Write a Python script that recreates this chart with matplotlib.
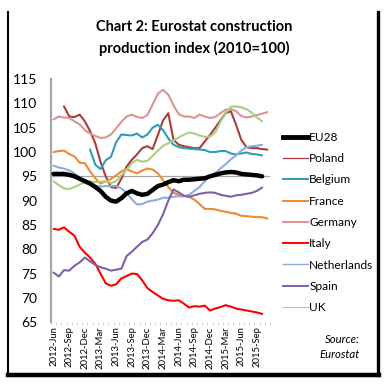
import matplotlib
matplotlib.use('Agg')
import matplotlib.pyplot as plt
from matplotlib.lines import Line2D
import numpy as np
import pandas as pd

# months on the category axis, 2012-Jun .. 2015-Nov
months = list(pd.date_range('2012-06-01', periods=42, freq='MS').strftime('%Y-%b'))

eu28 = [95.5, 95.5, 95.5, 95.3, 95.0, 94.5, 94.0, 93.5, 92.8, 92.0,
        90.8, 90.0, 89.8, 90.5, 91.5, 92.0, 91.5, 91.2, 91.4, 92.2,
        93.0, 93.3, 93.8, 94.2, 94.0, 94.3, 94.3, 94.4, 94.5, 94.6,
        95.0, 95.3, 95.6, 95.8, 95.9, 95.8, 95.5, 95.4, 95.3, 95.2,
        95.0, None]
poland = [None, None, 109.4, 107.3, 107.2, 107.7, 106.3, 104.3, 101.8, 98.0,
          95.0, 92.8, 92.6, 94.5, 97.0, 98.4, 99.5, 100.8, 101.2, 100.6,
          103.5, 106.5, 108.0, 102.5, 101.5, 101.2, 101.0, 100.8, 100.8, 102.2,
          103.5, 105.0, 106.5, 108.0, 108.4, 105.6, 102.5, 101.0, 100.8, 100.8,
          100.6, 100.5]
belgium = [None, None, None, None, None, None, None, 100.5, 97.4, 96.5,
           98.3, 99.0, 102.0, 103.6, 103.5, 103.4, 103.8, 103.0, 103.6, 105.0,
           105.6, 104.5, 102.8, 101.5, 101.0, 100.8, 100.7, 100.6, 100.5, 100.4,
           100.0, 100.0, 100.2, 100.2, 99.7, 99.5, 99.7, 99.9, 99.6, 99.5,
           99.3, None]
france = [100.0, 100.2, 100.3, 99.6, 99.1, 97.8, 97.7, 96.0, 94.6, 93.5,
          94.0, 94.5, 95.2, 96.0, 96.5, 96.0, 95.6, 96.2, 96.6, 96.4,
          95.6, 94.2, 92.8, 91.6, 91.2, 91.0, 90.8, 90.2, 89.3, 88.3,
          88.3, 88.2, 87.9, 87.7, 87.5, 87.3, 86.9, 86.8, 86.7, 86.6,
          86.6, 86.3]
germany = [106.7, 107.3, 107.1, 107.0, 106.3, 105.7, 104.5, 103.8, 103.3, 102.9,
           103.0, 103.6, 104.9, 106.2, 107.3, 107.7, 107.2, 107.0, 107.6, 109.8,
           112.0, 112.8, 111.8, 109.6, 107.8, 107.3, 107.3, 107.0, 107.7, 107.3,
           107.0, 107.2, 108.0, 108.7, 108.8, 108.4, 107.4, 107.1, 107.3, 107.6,
           107.9, 108.2]
italy = [84.2, 84.0, 84.5, 83.6, 82.8, 80.5, 79.3, 78.3, 77.0, 75.0,
         73.0, 72.5, 72.8, 74.0, 74.5, 75.0, 74.9, 73.6, 72.0, 71.2,
         70.5, 69.8, 69.5, 69.4, 69.5, 68.8, 68.0, 68.3, 68.2, 68.4,
         67.4, 67.8, 68.1, 68.5, 68.2, 67.8, 67.6, 67.4, 67.2, 67.0,
         66.7, None]
netherlands = [97.2, 96.8, 96.6, 96.2, 95.6, 94.7, 94.2, 93.6, 93.1, 92.9,
               93.0, 93.0, 93.0, 92.5, 91.5, 90.3, 89.2, 89.3, 89.8, 90.0,
               90.2, 90.6, 90.6, 90.8, 90.9, 90.9, 91.2, 92.0, 92.8, 94.0,
               95.0, 95.7, 96.6, 97.5, 98.5, 99.3, 100.3, 101.0, 101.2, 101.3,
               101.5, None]
spain = [75.2, 74.4, 75.7, 75.6, 76.6, 77.3, 78.3, 77.5, 76.8, 76.3,
         76.0, 75.6, 75.8, 76.0, 78.6, 79.5, 80.5, 81.5, 82.0, 83.3,
         85.0, 87.2, 90.0, 92.3, 91.7, 91.0, 90.8, 91.1, 91.4, 91.6,
         91.7, 91.6, 91.2, 91.0, 90.8, 91.1, 91.2, 91.4, 91.6, 92.0,
         92.7, None]
uk = [94.0, 93.2, 92.5, 92.4, 92.8, 93.3, 93.8, 94.0, 93.8, 93.9,
      94.0, 93.6, 94.0, 95.2, 96.3, 97.7, 98.4, 98.0, 98.2, 99.2,
      100.3, 101.3, 101.8, 102.4, 103.0, 103.6, 104.0, 103.8, 103.4, 103.1,
      103.2, 104.0, 106.2, 108.0, 109.3, 109.4, 109.2, 108.8, 108.1, 107.1,
      106.3, None]

names = ['EU28', 'Poland', 'Belgium', 'France', 'Germany', 'Italy',
         'Netherlands', 'Spain', 'UK']
series = [eu28, poland, belgium, france, germany, italy, netherlands, spain, uk]
colours = ['#000000', '#B03A3A', '#2E9DB6', '#EE8A33', '#D99594', '#FF0000',
           '#8FAADC', '#7D60A6', '#A9CF80']
widths = [3.2, 1.5, 1.5, 1.5, 1.5, 1.5, 1.5, 1.5, 1.5]
legend_widths = [3.5, 0.9, 1.4, 1.4, 1.4, 1.4, 1.0, 1.4, 0.8]

plt.rcParams['font.family'] = ['Lato', 'DejaVu Sans']

fig = plt.figure(figsize=(3.89, 3.84), dpi=100)
ax = fig.add_axes([0.131, 0.161, 0.563, 0.633])

x = np.arange(len(months))
# draw EU28 last so it sits on top
order = [1, 2, 3, 4, 5, 6, 7, 8, 0]
for n in order:
  y = np.array([np.nan if v is None else v for v in series[n]], dtype=float)
  ax.plot(x, y, color=colours[n], lw=widths[n], solid_capstyle='round',
          zorder=3 + (n == 0))

ax.axhline(95, color='#A6A6A6', lw=0.9, zorder=2)

ax.set_xlim(-0.5, len(months) - 0.5)
ax.set_ylim(65, 115)
ax.set_yticks(np.arange(65, 116, 5))
ax.set_xticks(x[::3])
ax.set_xticklabels(months[::3], rotation=90, fontsize=6.8)
ax.set_xticks(np.arange(-0.5, len(months), 1), minor=True)
ax.tick_params(axis='y', length=0, pad=10, labelsize=10)
ax.tick_params(axis='x', which='major', length=0, pad=3)
ax.tick_params(axis='x', which='minor', length=2, width=0.5, color='#BFBFBF')

for s in ['top', 'right', 'bottom']:
  ax.spines[s].set_visible(False)
ax.spines['left'].set_color('#A6A6A6')
ax.spines['left'].set_linewidth(1.6)

handles = [Line2D([], [], color=colours[n], lw=legend_widths[n]) for n in range(len(names))]
fig.legend(handles, names, loc='upper left', bbox_to_anchor=(0.715, 0.669),
           frameon=False, fontsize=8.6, handlelength=2.1, handletextpad=0.1,
           labelspacing=0.86, borderaxespad=0)

fig.text(0.5, 0.93, 'Chart 2: Eurostat construction', ha='center', va='center',
         fontsize=10.5, fontweight='bold')
fig.text(0.5, 0.875, 'production index (2010=100)', ha='center', va='center',
         fontsize=10.5, fontweight='bold')
fig.text(0.925, 0.115, 'Source:', ha='right', va='center', fontsize=8.2, style='italic')
fig.text(0.925, 0.078, 'Eurostat', ha='right', va='center', fontsize=8.2, style='italic')

# frame round the chart, heavier on the bottom and right edge
left_edge = Line2D([8 / 389, 8 / 389], [1 - 12 / 384, 1 - 375 / 384], color='black',
                   lw=1.5, transform=fig.transFigure)
bottom_edge = Line2D([8 / 389, 379 / 389], [1 - 375 / 384, 1 - 375 / 384], color='black',
                     lw=3.2, transform=fig.transFigure)
right_edge = Line2D([378 / 389, 378 / 389], [1 - 12 / 384, 1 - 375 / 384], color='black',
                    lw=2.4, transform=fig.transFigure)
for line in [left_edge, bottom_edge, right_edge]:
  fig.add_artist(line)

fig.savefig('out.png', dpi=100)
